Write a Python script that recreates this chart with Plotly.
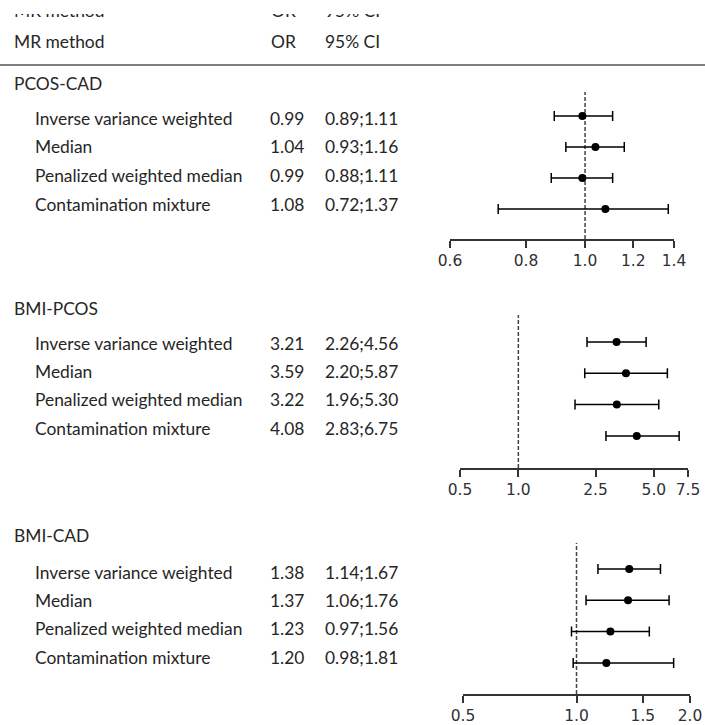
import math
import plotly.graph_objects as go

# ---------------- data ----------------
methods = ["Inverse variance weighted", "Median", "Penalized weighted median", "Contamination mixture"]
groups = ["PCOS-CAD", "BMI-PCOS", "BMI-CAD"]

or_pcos_cad = [0.99, 1.04, 0.99, 1.08]
lo_pcos_cad = [0.89, 0.93, 0.88, 0.72]
hi_pcos_cad = [1.11, 1.16, 1.11, 1.37]

or_bmi_pcos = [3.21, 3.59, 3.22, 4.08]
lo_bmi_pcos = [2.26, 2.20, 1.96, 2.83]
hi_bmi_pcos = [4.56, 5.87, 5.30, 6.75]

or_bmi_cad = [1.38, 1.37, 1.23, 1.20]
lo_bmi_cad = [1.14, 1.06, 0.97, 0.98]
hi_bmi_cad = [1.67, 1.76, 1.56, 1.81]

ticks_pcos_cad = [0.6, 0.8, 1.0, 1.2, 1.4]
ticks_bmi_pcos = [0.5, 1.0, 2.5, 5.0, 7.5]
ticks_bmi_cad = [0.5, 1.0, 1.5, 2.0]

header = ["MR method", "OR", "95% CI"]

# ---------------- layout constants (pixels) ----------------
W, H = 705, 725
TXT_FONT = "Lato"
TXT_SIZE = 17.4
TXT_COLOR = "#262626"
AX_COLOR = "#333333"

def yp(px):
    return 1 - px / H

def xp(px):
    return px / W

panels = [
    dict(name=groups[0], orv=or_pcos_cad, lo=lo_pcos_cad, hi=hi_pcos_cad, ticks=ticks_pcos_cad,
         xdom=(450, 674), ydom=(92, 239), row0=116, sp=31.0, title_y=84, txt0=118, txtsp=28.7),
    dict(name=groups[1], orv=or_bmi_pcos, lo=lo_bmi_pcos, hi=hi_bmi_pcos, ticks=ticks_bmi_pcos,
         xdom=(460, 688), ydom=(315, 468), row0=342, sp=31.3, title_y=309, txt0=343, txtsp=28.4),
    dict(name=groups[2], orv=or_bmi_cad, lo=lo_bmi_cad, hi=hi_bmi_cad, ticks=ticks_bmi_cad,
         xdom=(463, 690), ydom=(543, 694), row0=569, sp=31.3, title_y=535, txt0=572, txtsp=28.4),
]

fig = go.Figure()
annotations = []
shapes = []
layout_axes = {}

def fmt(v):
    return f"{v:.2f}"

def txt_ann(text, x_px, y_px):
    return dict(text=text, x=xp(x_px), y=yp(y_px), xref="paper", yref="paper",
                xanchor="left", yanchor="middle", showarrow=False,
                font=dict(family=TXT_FONT, size=TXT_SIZE, color=TXT_COLOR))

for k, p in enumerate(panels):
    idx = "" if k == 0 else str(k + 1)
    xa, ya = "x" + idx, "y" + idx
    rows = list(range(len(methods)))
    fig.add_trace(go.Scatter(
        x=p["orv"], y=rows, xaxis=xa, yaxis=ya, mode="markers",
        marker=dict(color="black", size=8, symbol="circle"),
        error_x=dict(type="data", symmetric=False,
                     array=[h - o for h, o in zip(p["hi"], p["orv"])],
                     arrayminus=[o - l for o, l in zip(p["orv"], p["lo"])],
                     color="black", thickness=1.5, width=5),
        showlegend=False, hoverinfo="skip", cliponaxis=False,
    ))
    lo_t, hi_t = min(p["ticks"]), max(p["ticks"])
    T, B = p["ydom"]
    layout_axes["xaxis" + idx] = dict(
        type="log", range=[math.log10(lo_t), math.log10(hi_t)],
        domain=[xp(p["xdom"][0]), xp(p["xdom"][1])], anchor=ya,
        tickvals=p["ticks"], ticktext=[f"{t:.1f}" for t in p["ticks"]],
        showline=True, linecolor=AX_COLOR, linewidth=1.5,
        ticks="outside", ticklen=7, tickwidth=1.5, tickcolor=AX_COLOR,
        tickfont=dict(family="DejaVu Sans", size=15.5, color="#303038"),
        showgrid=False, zeroline=False, fixedrange=True, automargin=False,
    )
    layout_axes["yaxis" + idx] = dict(
        range=[(B - p["row0"]) / p["sp"], (T - p["row0"]) / p["sp"]],
        domain=[yp(B), yp(T)], anchor=xa,
        visible=False, showgrid=False, zeroline=False, fixedrange=True, automargin=False,
    )
    shapes.append(dict(type="line", xref=xa, yref=ya + " domain", x0=1, x1=1, y0=0, y1=1,
                       line=dict(color="#444444", width=1.5, dash="4px,2px"), layer="below"))
    annotations.append(txt_ann(p["name"], 12, p["title_y"]))
    for i, m in enumerate(methods):
        ty = p["txt0"] + i * p["txtsp"]
        annotations.append(txt_ann(m, 33, ty))
        annotations.append(txt_ann(fmt(p["orv"][i]), 268, ty))
        annotations.append(txt_ann(fmt(p["lo"][i]) + ";" + fmt(p["hi"][i]), 323, ty))

# column header
header_x = [12, 269, 323]
for txt, x in zip(header, header_x):
    annotations.append(txt_ann(txt, x, 42))

# cut-off repeated header at the very top: drawn, then covered by a white box
for txt, x in zip(header, header_x):
    annotations.append(txt_ann(txt, x, 11))
annotations.append(dict(text=" ", x=0.5, y=1, xref="paper", yref="paper",
                        xanchor="center", yanchor="top", showarrow=False,
                        width=W + 4, height=13.5, bgcolor="white",
                        borderpad=0, borderwidth=0,
                        font=dict(family=TXT_FONT, size=8, color="white")))

# header rule
shapes.append(dict(type="line", xref="paper", yref="paper", x0=0, x1=1, y0=yp(65), y1=yp(65),
                   line=dict(color="#555555", width=1.5)))

fig.update_layout(
    width=W, height=H, margin=dict(l=0, r=0, t=0, b=0, pad=0, autoexpand=False),
    paper_bgcolor="white", plot_bgcolor="rgba(0,0,0,0)",
    annotations=annotations, shapes=shapes, **layout_axes,
)

fig.write_html("out.html", config={"displayModeBar": False})
